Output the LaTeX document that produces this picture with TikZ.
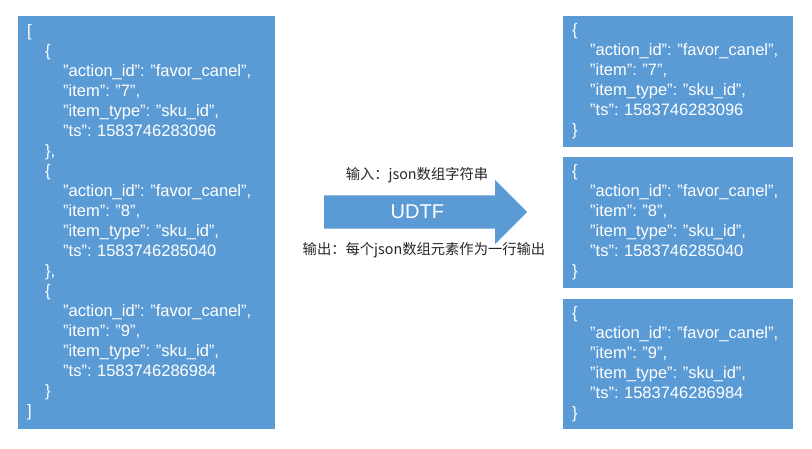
\documentclass[tikz,border=0pt]{standalone}
\usepackage{fontspec}
\setmainfont{Liberation Sans}
\newfontfamily\cjk{Noto Sans CJK SC}
\usetikzlibrary{shapes.arrows,positioning}
\definecolor{jsonblue}{RGB}{91,155,213}
\newcommand{\ind}{\hspace*{18pt}}
\frenchspacing
\tikzset{
  jsonbox/.style={fill=jsonblue, text=white, anchor=north west, align=left,
    inner xsep=9pt, inner ysep=0pt, font=\fontsize{16.5}{20}\selectfont},
  udtfarrow/.style={single arrow, fill=jsonblue, text=white, anchor=tail,
    minimum height=203pt, single arrow head extend=15.5pt,
    text height=12pt, text depth=0pt, inner ysep=10.5pt,
    font=\fontsize{20}{24}\selectfont},
  cjklabel/.style={text=black!85, font=\cjk\fontsize{14.3}{17}\selectfont}
}
\begin{document}
\begin{tikzpicture}[x=1pt,y=-1pt]
   \useasboundingbox (0,0) rectangle (812,448);

   \node[jsonbox, text width=239pt, minimum height=413pt] (src) at (18,16) {%
     [\\
     \ind\{\\
     \ind\ind"action\_id": "favor\_canel",\\
     \ind\ind"item": "7",\\
     \ind\ind"item\_type": "sku\_id",\\
     \ind\ind"ts": 1583746283096\\
     \ind\},\\
     \ind\{\\
     \ind\ind"action\_id": "favor\_canel",\\
     \ind\ind"item": "8",\\
     \ind\ind"item\_type": "sku\_id",\\
     \ind\ind"ts": 1583746285040\\
     \ind\},\\
     \ind\{\\
     \ind\ind"action\_id": "favor\_canel",\\
     \ind\ind"item": "9",\\
     \ind\ind"item\_type": "sku\_id",\\
     \ind\ind"ts": 1583746286984\\
     \ind\}\\
     ]};

   \node[jsonbox, text width=212pt, minimum height=131pt] (row1) at (563,16) {%
     \{\\
     \ind"action\_id": "favor\_canel",\\
     \ind"item": "7",\\
     \ind"item\_type": "sku\_id",\\
     \ind"ts": 1583746283096\\
     \}};
   \node[jsonbox, text width=212pt, minimum height=131pt] (row2) at (563,157) {%
     \{\\
     \ind"action\_id": "favor\_canel",\\
     \ind"item": "8",\\
     \ind"item\_type": "sku\_id",\\
     \ind"ts": 1583746285040\\
     \}};
   \node[jsonbox, text width=212pt, minimum height=130pt] (row3) at (563,299) {%
     \{\\
     \ind"action\_id": "favor\_canel",\\
     \ind"item": "9",\\
     \ind"item\_type": "sku\_id",\\
     \ind"ts": 1583746286984\\
     \}};

   \node[udtfarrow] (udtf) at (324,212) {UDTF};
   \node[cjklabel] (inlabel) at (417,175) {输入：json数组字符串};
   \node[cjklabel] (outlabel) at (424,250) {输出：每个json数组元素作为一行输出};
\end{tikzpicture}
\end{document}
